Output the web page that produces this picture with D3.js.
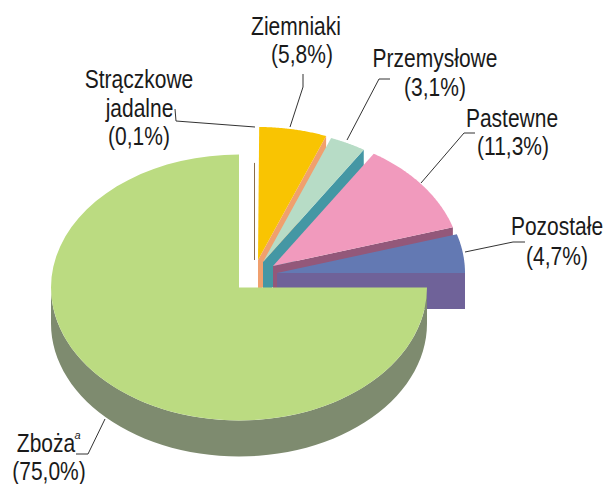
<!DOCTYPE html>
<html><head><meta charset="utf-8">
<script src="https://cdn.jsdelivr.net/npm/d3@7"></script>
<style>html,body{margin:0;background:#fff}svg{display:block}text{font-family:"Liberation Sans",sans-serif;font-size:25px;fill:#1a1a1a;text-anchor:middle}</style>
</head><body><svg width="604" height="484"></svg>
<script>
const categories = ["Zboża","Strączkowe jadalne","Ziemniaki","Przemysłowe","Pastewne","Pozostałe"];
const values = [75.0,0.1,5.8,3.1,11.3,4.7];
const valueLabels = ["(75,0%)","(0,1%)","(5,8%)","(3,1%)","(11,3%)","(4,7%)"];
const topColors = ["#bbdb81","#8a6d4a","#f9c402","#b7dcc6","#f19abd","#6379b3"];
const sideColors = ["#7e8b6f","#8a6d4a","#f0a06e","#4497a4","#93587a","#6f6299"];

const RX=188, RY=133, DEPTH=36;
const apex = {"Zboża":[239,287.5],"Strączkowe jadalne":[254.5,260],"Ziemniaki":[258,260],"Przemysłowe":[263,262],"Pastewne":[273,266],"Pozostałe":[277,273]};
const svg = d3.select("svg");
const angle = d3.scaleLinear().domain([0,d3.sum(values)]).range([0,2*Math.PI]);
const order = [1,2,3,4,5,0];
let acc=0; const slices = order.map(i=>{const s={i,a0:angle(acc),a1:angle(acc+values[i])};acc+=values[i];return s;});
const pt=(c,a,dy=0,k=1)=>[c[0]+Math.sin(a)*RX*k,c[1]-Math.cos(a)*RY*k+dy];
const arcPts=(c,a0,a1,dy=0)=>d3.range(0,61).map(t=>pt(c,a0+(a1-a0)*t/60,dy));
const line=d3.line();
slices.forEach(s=>{
  const name=categories[s.i], c=apex[name];
  if(s.i===1){
    svg.append("path").attr("d",line([c,pt(c,0,0,0.73)])).attr("stroke",topColors[1]).attr("stroke-width",1).attr("fill","none");
    return;
  }
  const g=svg.append("g");
  const e=s.a1, dn=[c[0],c[1]+DEPTH];
  if(s.i!==0) g.append("path").attr("d",line([c,pt(c,e),pt(c,e,DEPTH),dn])+"Z").attr("fill",sideColors[s.i]);
  const rimStart=Math.max(s.a0,Math.PI/2), rimEnd=Math.min(s.a1,1.5*Math.PI);
  if(rimEnd>rimStart){
    const top=arcPts(c,rimStart,rimEnd), bot=arcPts(c,rimStart,rimEnd,DEPTH).reverse();
    g.append("path").attr("d",line(top.concat(bot))+"Z").attr("fill",sideColors[s.i]);
  }
  g.append("path").attr("d",line([c].concat(arcPts(c,s.a0,s.a1)))+"Z").attr("fill",topColors[s.i]);
});

const leaders=[
 [[105,419],[88,454],[76,454]],
 [[175,109],[176,121],[255,127]],
 [[303,74],[303,87],[290,127]],
 [[390,79],[379,79],[347,140]],
 [[475,133],[464,133],[421,183]],
 [[465,252],[513,242],[525,242]]
];
leaders.forEach(l=>svg.append("path").attr("d",line(l)).attr("fill","none").attr("stroke","#333").attr("stroke-width",1));

const lab=(x,y,t)=>svg.append("text").attr("transform",`translate(${x},${y}) scale(0.84,1)`).text(t);
lab(296,35,"Ziemniaki");lab(302,63,valueLabels[2]);
lab(139,88,"Strączkowe");lab(139.5,117,"jadalne");lab(139,145,valueLabels[1]);
lab(435,67,"Przemysłowe");lab(435,96,valueLabels[3]);
lab(512,127,"Pastewne");lab(513,155,valueLabels[4]);
lab(557,235,"Pozostałe");lab(557,265,valueLabels[5]);
lab(46,452,"Zboża");
svg.append("text").attr("x",77.5).attr("y",439).style("font-size","11px").style("font-style","italic").text("a");
lab(49,480,valueLabels[0]);
</script></body></html>
